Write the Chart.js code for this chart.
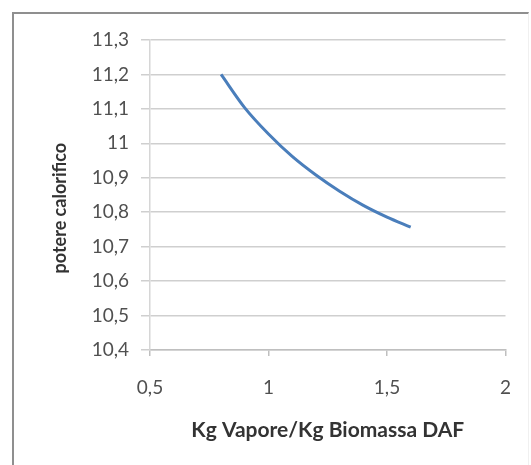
<!DOCTYPE html>
<html>
<head>
<meta charset="utf-8">
<script src="https://cdn.jsdelivr.net/npm/chart.js@4/dist/chart.umd.min.js"></script>
<style>
  html, body { margin: 0; padding: 0; background: #ffffff; }
  #frame { position: absolute; left: 12px; top: 12px; width: 514px; height: 470px;
           border-left: 2px solid #8f8f8f; border-top: 2px solid #8f8f8f; border-right: 1px solid #f0f0f0; }
  #c { position: absolute; left: 0; top: 0; }
</style>
</head>
<body>
<div id="frame"></div>
<canvas id="c" width="531" height="465"></canvas>
<script>
// Data
const steamRatio = [0.8, 0.9, 1.0, 1.1, 1.2, 1.3, 1.4, 1.5, 1.6];
const heatingValue = [11.2, 11.103, 11.027, 10.962, 10.908, 10.861, 10.820, 10.786, 10.757];
const xTitle = 'Kg Vapore/Kg Biomassa DAF';
const yTitle = 'potere calorifico';
const xMin = 0.5, xMax = 2, xStep = 0.5;
const yMin = 10.4, yMax = 11.3, yStep = 0.1;

const points = steamRatio.map((x, i) => ({ x: x, y: heatingValue[i] }));
const fmt = v => String(Number(Number(v).toFixed(1))).replace('.', ',');

const FONT = "Lato, 'Open Sans', sans-serif";

new Chart(document.getElementById('c'), {
  type: 'scatter',
  data: {
    datasets: [{
      data: points,
      showLine: true,
      borderColor: '#4a7ebb',
      borderWidth: 3,
      pointRadius: 0,
      cubicInterpolationMode: 'monotone',
      fill: false
    }]
  },
  options: {
    responsive: false,
    devicePixelRatio: 1,
    animation: false,
    layout: { padding: { left: 49, top: 40, right: 24, bottom: 22 } },
    plugins: { legend: { display: false }, tooltip: { enabled: false } },
    scales: {
      x: {
        type: 'linear', min: xMin, max: xMax,
        afterFit: s => { s.height = 93; },
        ticks: { stepSize: xStep, callback: v => fmt(v), color: '#505050',
                 font: { family: FONT, size: 19 }, padding: 20, maxRotation: 0 },
        grid: { drawOnChartArea: false, drawTicks: true, tickLength: 6, color: '#bfbfbf', lineWidth: 1.5 },
        border: { display: true, color: '#bfbfbf', width: 1.5 },
        title: { display: true, text: xTitle, color: '#333333', padding: 0,
                 font: { family: FONT, size: 21, weight: 'bold' } }
      },
      y: {
        type: 'linear', min: yMin, max: yMax,
        afterFit: s => { s.width = 101; },
        ticks: { stepSize: yStep, callback: v => fmt(v), color: '#505050',
                 font: { family: FONT, size: 19 }, padding: 12 },
        grid: { drawOnChartArea: true, drawTicks: true, tickLength: 9, color: '#cfcfcf', lineWidth: 1.5 },
        border: { display: true, color: '#d6d6d6', width: 1.5 },
        title: { display: true, text: yTitle + '\u00a0\u00a0\u00a0\u00a0\u00a0\u00a0', color: '#333333', padding: 0,
                 font: { family: FONT, size: 18, weight: 'bold' } }
      }
    }
  }
});
</script>
</body>
</html>
